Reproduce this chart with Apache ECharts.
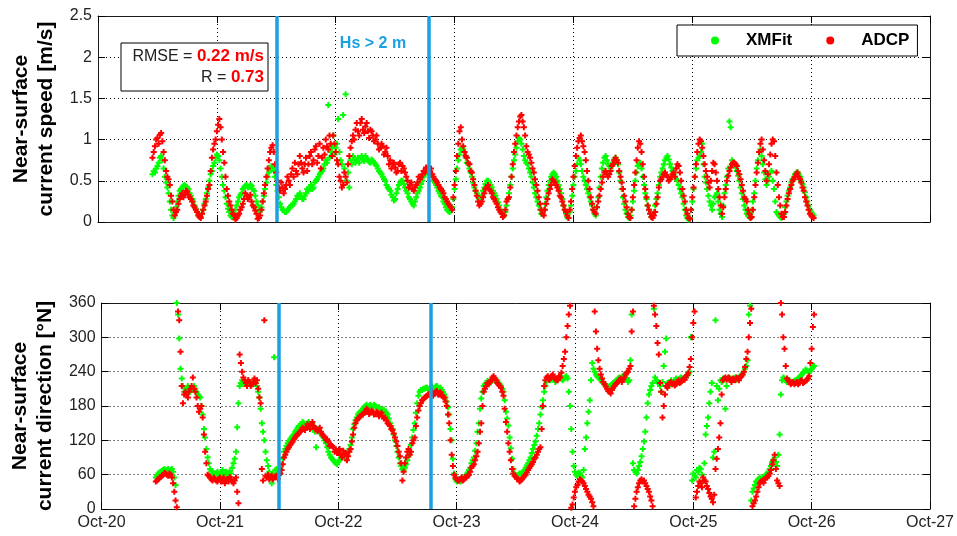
<!DOCTYPE html>
<html>
<head>
<meta charset="utf-8">
<script src="https://cdn.jsdelivr.net/npm/echarts@6/dist/echarts.min.js"></script>
<style>
  html, body { margin: 0; padding: 0; background: #fff; }
  #chart { width: 957px; height: 536px; }
</style>
</head>
<body>
<div id="chart"></div>
<script>
// Day labels of the shared time axis (value = days since Oct-20 00:00)
const dayLabels = ['Oct-20', 'Oct-21', 'Oct-22', 'Oct-23', 'Oct-24', 'Oct-25', 'Oct-26', 'Oct-27'];

// Samples on the hour and half hour, first one at Oct-20 11:00;
// the "Mid" arrays hold the samples at :15 and :45 in between.
const sampleStartDay = 11 / 24;
const sampleStepDay = 0.5 / 24;

// Near-surface current speed [m/s]
const speedXMFit = [
  0.58, 0.60, 0.68, 0.78, 0.75, 0.55, 0.42, 0.25, 0.08, 0.10, 0.25, 0.38,
  0.42, 0.45, 0.42, 0.35, 0.28, 0.20, 0.12, 0.08, 0.10, 0.22, 0.35, 0.50,
  0.62, 0.72, 0.82, 0.75, 0.55, 0.38, 0.22, 0.12, 0.06, 0.10, 0.20, 0.30,
  0.35, 0.42, 0.45, 0.43, 0.44, 0.38, 0.25, 0.15, 0.18, 0.32, 0.48, 0.60,
  0.68, 0.62, 0.45, 0.30, 0.18, 0.14, 0.12, 0.16, 0.20, 0.22, 0.28, 0.30,
  0.32, 0.28, 0.35, 0.38, 0.45, 0.42, 0.50, 0.55, 0.60, 0.65, 0.75, 1.42,
  0.85, 1.05, 0.90, 1.25, 0.75, 1.30, 1.55, 0.60, 0.75, 0.80, 0.72, 0.78,
  0.78, 0.76, 0.80, 0.75, 0.72, 0.74, 0.70, 0.65, 0.60, 0.55, 0.50, 0.42,
  0.38, 0.30, 0.28, 0.40, 0.48, 0.50, 0.42, 0.35, 0.28, 0.22, 0.25, 0.35,
  0.42, 0.50, 0.58, 0.62, 0.60, 0.55, 0.48, 0.42, 0.35, 0.30, 0.22, 0.15,
  0.12, 0.18, 0.40, 0.65, 0.82, 0.90, 0.85, 0.72, 0.65, 0.55, 0.42, 0.35,
  0.28, 0.32, 0.42, 0.50, 0.48, 0.42, 0.35, 0.28, 0.20, 0.12, 0.08, 0.20,
  0.35, 0.55, 0.75, 0.90, 1.02, 0.95, 0.80, 0.72, 0.65, 0.55, 0.42, 0.30,
  0.20, 0.10, 0.15, 0.30, 0.45, 0.55, 0.60, 0.55, 0.45, 0.35, 0.20, 0.10,
  0.05, 0.20, 0.45, 0.62, 0.78, 0.70, 0.55, 0.45, 0.35, 0.25, 0.15, 0.08,
  0.30, 0.55, 0.72, 0.80, 0.70, 0.65, 0.72, 0.78, 0.70, 0.50, 0.30, 0.15,
  0.06, 0.08, 0.25, 0.50, 0.68, 0.72, 0.55, 0.35, 0.20, 0.10, 0.08, 0.20,
  0.35, 0.55, 0.65, 0.75, 0.80, 0.70, 0.62, 0.55, 0.50, 0.40, 0.30, 0.15,
  0.05, 0.05, 0.25, 0.55, 0.75, 0.80, 0.95, 0.55, 0.40, 0.25, 0.15, 0.30,
  0.35, 0.15, 0.06, 0.35, 0.55, 1.22, 0.75, 0.70, 0.62, 0.50, 0.35, 0.20,
  0.10, 0.06, 0.15, 0.35, 0.65, 0.85, 0.80, 0.60, 0.45, 0.55, 0.62, 0.40,
  0.12, 0.08, 0.05, 0.10, 0.25, 0.38, 0.48, 0.55, 0.60, 0.58, 0.50, 0.42,
  0.30, 0.20, 0.12, 0.08
];
const speedXMFitMid = [
  0.62, 0.65, 0.72, 0.80, 0.65, 0.48, 0.35, 0.15, 0.05, 0.18, 0.32, 0.40,
  0.44, 0.43, 0.40, 0.32, 0.25, 0.16, 0.10, 0.06, 0.15, 0.28, 0.42, 0.58,
  0.68, 0.78, 0.80, 0.65, 0.45, 0.30, 0.16, 0.08, 0.07, 0.15, 0.25, 0.33,
  0.40, 0.44, 0.42, 0.45, 0.40, 0.32, 0.20, 0.13, 0.25, 0.40, 0.55, 0.65,
  0.66, 0.55, 0.38, 0.22, 0.15, 0.12, 0.14, 0.18, 0.20, 0.25, 0.32, 0.35,
  0.28, 0.32, 0.40, 0.42, 0.40, 0.48, 0.52, 0.58, 0.62, 0.70, 0.72, 0.78,
  0.90, 0.82, 0.95, 0.85, 0.70, 0.65, 0.50, 0.42, 0.70, 0.76, 0.74, 0.72,
  0.80, 0.74, 0.77, 0.73, 0.76, 0.72, 0.68, 0.62, 0.58, 0.52, 0.45, 0.40,
  0.33, 0.26, 0.35, 0.45, 0.50, 0.46, 0.38, 0.30, 0.25, 0.20, 0.30, 0.38,
  0.46, 0.55, 0.60, 0.63, 0.58, 0.50, 0.45, 0.38, 0.32, 0.25, 0.18, 0.13,
  0.14, 0.28, 0.52, 0.75, 0.88, 0.88, 0.78, 0.70, 0.60, 0.48, 0.38, 0.30,
  0.30, 0.38, 0.46, 0.50, 0.45, 0.38, 0.32, 0.24, 0.15, 0.10, 0.12, 0.28,
  0.45, 0.65, 0.82, 0.98, 1.00, 0.88, 0.75, 0.70, 0.60, 0.48, 0.35, 0.25,
  0.15, 0.10, 0.22, 0.38, 0.50, 0.58, 0.58, 0.50, 0.40, 0.28, 0.15, 0.06,
  0.12, 0.32, 0.55, 0.70, 0.75, 0.62, 0.50, 0.40, 0.30, 0.20, 0.10, 0.18,
  0.42, 0.65, 0.78, 0.75, 0.68, 0.70, 0.76, 0.75, 0.60, 0.40, 0.22, 0.10,
  0.05, 0.15, 0.38, 0.60, 0.70, 0.65, 0.45, 0.28, 0.15, 0.06, 0.12, 0.28,
  0.45, 0.60, 0.70, 0.78, 0.76, 0.66, 0.58, 0.52, 0.45, 0.35, 0.22, 0.08,
  0.03, 0.15, 0.40, 0.65, 0.78, 0.85, 0.70, 0.48, 0.32, 0.20, 0.22, 0.32,
  0.25, 0.10, 0.20, 0.45, 0.65, 1.15, 0.72, 0.66, 0.56, 0.42, 0.28, 0.15,
  0.08, 0.10, 0.25, 0.50, 0.75, 0.88, 0.70, 0.52, 0.50, 0.60, 0.50, 0.25,
  0.10, 0.06, 0.08, 0.18, 0.32, 0.42, 0.52, 0.58, 0.60, 0.55, 0.46, 0.36,
  0.25, 0.15, 0.10
];
const speedADCP = [
  0.78, 0.92, 1.02, 1.06, 0.98, 0.75, 0.55, 0.45, 0.25, 0.08, 0.15, 0.28,
  0.35, 0.33, 0.37, 0.30, 0.25, 0.18, 0.12, 0.06, 0.10, 0.20, 0.32, 0.45,
  0.78, 0.95, 1.10, 1.25, 1.00, 0.72, 0.40, 0.25, 0.15, 0.08, 0.05, 0.10,
  0.18, 0.28, 0.32, 0.30, 0.25, 0.18, 0.10, 0.05, 0.15, 0.35, 0.55, 0.75,
  0.90, 0.85, 0.60, 0.42, 0.48, 0.35, 0.45, 0.50, 0.58, 0.55, 0.62, 0.70,
  0.72, 0.60, 0.78, 0.70, 0.85, 0.75, 0.92, 0.80, 0.65, 0.90, 1.00, 0.88,
  0.95, 1.05, 0.85, 0.70, 0.50, 0.45, 0.55, 0.70, 0.90, 1.05, 1.12, 1.10,
  1.20, 1.12, 1.16, 1.10, 1.12, 1.05, 1.00, 0.95, 0.90, 0.92, 0.85, 0.80,
  0.75, 0.70, 0.66, 0.62, 0.72, 0.68, 0.60, 0.50, 0.45, 0.40, 0.42, 0.48,
  0.52, 0.58, 0.60, 0.65, 0.62, 0.58, 0.52, 0.48, 0.42, 0.38, 0.30, 0.25,
  0.20, 0.15, 0.45, 0.80, 1.10, 1.00, 0.85, 0.78, 0.70, 0.60, 0.45, 0.32,
  0.20, 0.25, 0.35, 0.42, 0.40, 0.35, 0.28, 0.22, 0.15, 0.10, 0.08, 0.25,
  0.30, 0.55, 0.85, 1.05, 1.22, 1.30, 1.15, 0.92, 0.82, 0.72, 0.60, 0.45,
  0.30, 0.15, 0.08, 0.22, 0.35, 0.45, 0.50, 0.45, 0.38, 0.30, 0.20, 0.12,
  0.05, 0.25, 0.55, 0.80, 0.98, 1.05, 0.92, 0.75, 0.50, 0.30, 0.15, 0.10,
  0.25, 0.40, 0.55, 0.62, 0.55, 0.62, 0.70, 0.78, 0.72, 0.55, 0.40, 0.25,
  0.10, 0.05, 0.30, 0.60, 0.90, 0.95, 0.70, 0.40, 0.20, 0.10, 0.05, 0.12,
  0.30, 0.50, 0.55, 0.60, 0.55, 0.52, 0.58, 0.55, 0.70, 0.60, 0.40, 0.25,
  0.10, 0.04, 0.30, 0.55, 0.85, 1.00, 0.90, 0.70, 0.55, 0.42, 0.62, 0.70,
  0.50, 0.30, 0.10, 0.30, 0.50, 0.62, 0.70, 0.72, 0.68, 0.58, 0.45, 0.30,
  0.25, 0.10, 0.06, 0.30, 0.60, 0.85, 1.00, 0.75, 0.50, 0.70, 0.95, 0.98,
  0.60, 0.30, 0.10, 0.06, 0.20, 0.35, 0.45, 0.52, 0.58, 0.55, 0.48, 0.38,
  0.25, 0.15, 0.08, 0.05
];
const speedADCPMid = [
  0.85, 1.00, 0.95, 1.08, 0.85, 0.62, 0.52, 0.32, 0.15, 0.12, 0.22, 0.32,
  0.30, 0.38, 0.33, 0.28, 0.20, 0.15, 0.08, 0.05, 0.15, 0.25, 0.40, 0.62,
  0.88, 1.00, 1.18, 1.15, 0.85, 0.55, 0.32, 0.20, 0.10, 0.03, 0.08, 0.15,
  0.22, 0.35, 0.28, 0.33, 0.20, 0.14, 0.04, 0.08, 0.25, 0.45, 0.65, 0.85,
  0.93, 0.70, 0.50, 0.38, 0.42, 0.40, 0.55, 0.45, 0.65, 0.72, 0.58, 0.80,
  0.65, 0.70, 0.62, 0.80, 0.70, 0.88, 0.72, 0.95, 0.78, 0.82, 0.92, 1.05,
  0.80, 0.95, 0.75, 0.55, 0.42, 0.60, 0.48, 0.80, 0.98, 1.00, 1.20, 1.05,
  1.25, 1.08, 1.20, 1.02, 1.10, 0.98, 1.05, 0.88, 0.95, 0.82, 0.90, 0.70,
  0.65, 0.72, 0.60, 0.70, 0.62, 0.65, 0.55, 0.42, 0.48, 0.38, 0.45, 0.55,
  0.55, 0.62, 0.66, 0.60, 0.65, 0.55, 0.50, 0.45, 0.40, 0.35, 0.28, 0.22,
  0.18, 0.30, 0.62, 0.95, 1.15, 0.92, 0.80, 0.72, 0.62, 0.52, 0.38, 0.25,
  0.22, 0.30, 0.40, 0.45, 0.38, 0.30, 0.25, 0.18, 0.12, 0.06, 0.15, 0.28,
  0.42, 0.70, 0.95, 1.15, 1.28, 1.22, 1.05, 0.85, 0.78, 0.65, 0.52, 0.38,
  0.22, 0.10, 0.15, 0.28, 0.40, 0.52, 0.48, 0.42, 0.32, 0.25, 0.15, 0.08,
  0.15, 0.40, 0.68, 0.90, 1.02, 0.98, 0.85, 0.62, 0.40, 0.22, 0.12, 0.18,
  0.32, 0.48, 0.60, 0.58, 0.58, 0.68, 0.75, 0.75, 0.62, 0.48, 0.32, 0.18,
  0.06, 0.15, 0.45, 0.75, 0.98, 0.85, 0.55, 0.30, 0.15, 0.06, 0.08, 0.22,
  0.42, 0.52, 0.58, 0.57, 0.50, 0.55, 0.60, 0.65, 0.68, 0.50, 0.32, 0.15,
  0.05, 0.15, 0.42, 0.70, 0.95, 0.98, 0.80, 0.62, 0.48, 0.50, 0.72, 0.60,
  0.40, 0.20, 0.18, 0.40, 0.56, 0.66, 0.72, 0.70, 0.62, 0.52, 0.38, 0.28,
  0.15, 0.05, 0.15, 0.45, 0.72, 0.95, 0.88, 0.62, 0.58, 0.82, 1.00, 0.80,
  0.45, 0.20, 0.06, 0.12, 0.28, 0.40, 0.50, 0.55, 0.60, 0.52, 0.42, 0.30,
  0.20, 0.10, 0.06
];

// Near-surface current direction [deg N]
const dirXMFit = [
  55, 62, 65, 68, 66, 70, 68, 65, 42, 340, 245, 215,
  210, 215, 205, 212, 210, 200, 195, 165, 125, 90, 70, 65,
  60, 65, 58, 68, 62, 60, 66, 72, 88, 143, 215, 225,
  225, 222, 218, 220, 225, 215, 195, 150, 120, 85, 65, 45,
  265, 70, 62, 78, 100, 110, 118, 125, 130, 138, 145, 148,
  150, 146, 152, 142, 138, 108, 140, 132, 125, 115, 100, 90,
  85, 80, 82, 90, 95, 88, 100, 112, 140, 155, 165, 170,
  175, 180, 178, 182, 178, 180, 176, 175, 172, 170, 165, 150,
  140, 120, 100, 80, 70, 72, 85, 100, 125, 150, 185, 205,
  208, 210, 212, 210, 214, 212, 215, 210, 208, 200, 188, 165,
  120, 62, 48, 52, 50, 55, 60, 68, 80, 90, 115, 150,
  193, 215, 220, 222, 225, 228, 222, 220, 215, 205, 170, 146,
  106, 70, 58, 60, 62, 65, 72, 80, 90, 105, 118, 140,
  165, 190, 215, 228, 225, 230, 222, 228, 232, 225, 230, 228,
  180, 100, 65, 58, 62, 55, 105, 150, 190, 255, 240, 232,
  228, 222, 218, 215, 212, 218, 222, 225, 230, 225, 235, 228,
  225, 340, 68, 62, 75, 92, 118, 160, 200, 215, 350, 225,
  220, 205, 250, 298, 215, 225, 220, 228, 225, 230, 228, 232,
  235, 300, 62, 55, 65, 70, 50, 130, 160, 205, 90, 330,
  190, 225, 228, 175, 230, 228, 225, 230, 228, 232, 235, 245,
  260, 355, 30, 42, 50, 55, 52, 58, 62, 70, 82, 90,
  75, 130, 225, 228, 222, 225, 220, 224, 226, 230, 235, 240,
  242, 238, 245, 250
];
const dirXMFitMid = [
  58, 64, 67, 70, 68, 66, 70, 55, 360, 298, 228, 205,
  212, 208, 210, 215, 205, 198, 180, 140, 105, 80, 66, 62,
  62, 60, 64, 60, 65, 58, 62, 80, 100, 185, 220, 218,
  220, 225, 222, 218, 220, 205, 175, 135, 100, 75, 55, 62,
  68, 65, 70, 88, 105, 115, 122, 128, 135, 142, 146, 152,
  148, 150, 145, 148, 135, 138, 135, 128, 120, 108, 95, 88,
  82, 78, 86, 92, 90, 95, 105, 125, 148, 160, 168, 172,
  178, 182, 180, 179, 182, 178, 178, 173, 174, 168, 158, 145,
  130, 110, 90, 75, 68, 78, 92, 112, 138, 168, 198, 208,
  210, 212, 208, 212, 210, 214, 212, 212, 204, 195, 178, 140,
  88, 52, 50, 48, 52, 58, 64, 72, 85, 102, 135, 175,
  205, 218, 224, 220, 228, 225, 225, 218, 210, 190, 158, 125,
  88, 62, 55, 62, 60, 68, 76, 85, 98, 112, 128, 150,
  178, 205, 222, 226, 228, 226, 225, 230, 228, 228, 232, 205,
  140, 75, 60, 64, 58, 68, 125, 170, 225, 245, 235, 230,
  225, 220, 216, 214, 215, 220, 224, 228, 226, 232, 230, 222,
  260, 80, 65, 68, 82, 105, 135, 185, 208, 220, 230, 222,
  215, 222, 275, 220, 222, 218, 225, 222, 228, 226, 230, 234,
  240, 50, 58, 68, 72, 60, 80, 145, 185, 220, 100, 215,
  210, 222, 226, 215, 228, 225, 228, 226, 230, 234, 240, 250,
  340, 15, 36, 48, 52, 50, 55, 60, 65, 75, 86, 82,
  95, 200, 230, 224, 226, 222, 222, 225, 228, 232, 238, 244,
  240, 242, 248
];
const dirADCP = [
  48, 52, 56, 60, 62, 58, 60, 45, 15, 345, 275, 185,
  205, 195, 210, 230, 205, 180, 175, 160, 100, 60, 55, 50,
  52, 48, 55, 50, 45, 52, 56, 48, 50, 30, 270, 240,
  225, 215, 222, 218, 228, 225, 195, 70, 330, 55, 52, 58,
  55, 58, 60, 68, 90, 100, 108, 115, 122, 128, 132, 138,
  140, 142, 145, 148, 145, 140, 138, 135, 128, 120, 118, 112,
  108, 104, 100, 95, 102, 98, 92, 105, 130, 150, 158, 162,
  165, 170, 172, 168, 170, 166, 168, 165, 162, 160, 150, 145,
  138, 125, 110, 92, 50, 80, 100, 95, 115, 125, 160, 180,
  190, 195, 198, 200, 205, 202, 206, 200, 198, 195, 180, 150,
  95, 60, 52, 50, 55, 52, 55, 60, 72, 78, 92, 115,
  150, 205, 215, 218, 225, 232, 225, 218, 212, 198, 152, 115,
  85, 62, 56, 52, 50, 55, 60, 68, 75, 82, 90, 100,
  108, 180, 225, 232, 228, 235, 228, 225, 230, 250, 275, 320,
  355, 8, 30, 42, 52, 48, 40, 30, 22, 12, 345, 280,
  245, 228, 218, 210, 205, 208, 215, 220, 225, 222, 230, 238,
  245, 310, 5, 30, 45, 52, 50, 40, 30, 15, 355, 320,
  270, 205, 180, 215, 218, 222, 220, 218, 225, 222, 228, 230,
  238, 262, 325, 20, 40, 45, 55, 48, 35, 22, 12, 70,
  105, 150, 225, 230, 228, 226, 228, 225, 228, 230, 235, 248,
  275, 325, 5, 15, 30, 45, 50, 52, 55, 62, 78, 95,
  50, 40, 340, 280, 228, 222, 220, 218, 222, 220, 225, 222,
  225, 232, 280, 340
];
const dirADCPMid = [
  50, 55, 58, 63, 60, 62, 55, 30, 3, 330, 215, 200,
  200, 205, 215, 210, 195, 170, 180, 130, 80, 58, 52, 55,
  50, 52, 48, 55, 50, 48, 52, 45, 55, 10, 255, 230,
  220, 225, 215, 222, 220, 210, 185, 50, 58, 60, 55, 52,
  57, 52, 62, 78, 95, 105, 112, 118, 125, 130, 135, 142,
  138, 148, 140, 152, 142, 136, 142, 130, 125, 122, 110, 110,
  100, 98, 105, 90, 96, 85, 100, 118, 142, 155, 160, 165,
  168, 175, 166, 172, 165, 170, 162, 168, 158, 155, 148, 140,
  132, 118, 100, 80, 65, 90, 105, 100, 120, 145, 172, 185,
  192, 196, 200, 203, 198, 205, 200, 204, 196, 188, 165, 120,
  75, 55, 50, 52, 50, 56, 58, 65, 75, 85, 100, 135,
  180, 210, 220, 222, 230, 228, 220, 215, 205, 175, 135, 100,
  70, 58, 53, 48, 52, 58, 64, 72, 78, 88, 95, 105,
  140, 215, 230, 226, 232, 230, 225, 232, 238, 262, 300, 340,
  2, 20, 38, 48, 50, 45, 35, 25, 18, 5, 310, 260,
  235, 222, 214, 206, 202, 212, 218, 222, 228, 226, 235, 240,
  250, 345, 18, 38, 50, 48, 45, 35, 22, 5, 340, 290,
  220, 160, 200, 212, 220, 218, 216, 222, 220, 225, 226, 234,
  248, 300, 345, 30, 48, 38, 50, 40, 28, 18, 25, 88,
  125, 200, 228, 226, 230, 222, 226, 230, 225, 232, 240, 262,
  300, 350, 10, 22, 38, 48, 46, 55, 58, 68, 85, 70,
  45, 360, 300, 250, 225, 218, 222, 220, 218, 224, 220, 224,
  228, 255, 318
];

// Period with significant wave height above 2 m (days since Oct-20)
const hsWindow = [1.5, 2.78];

// Agreement statistics between XMFit and ADCP speeds
const statRMSE = '0.22 m/s';
const statR = '0.73';

const GREEN = '#00ff00';
const RED = '#ff0000';
const BLUE = '#1ba1e2';
const FONT = 'Liberation Sans, Arial, sans-serif';
const PLUS = 'path://M2,0H4V2H6V4H4V6H2V4H0V2H2Z';

// Attach sample times: on-step values at start + i*step, mid values half a step later
function pairs(values, mids) {
  const out = values.map((v, i) => [sampleStartDay + i * sampleStepDay, v]);
  mids.forEach((v, i) => out.push([sampleStartDay + (i + 0.5) * sampleStepDay, v]));
  return out;
}

const chart = echarts.init(document.getElementById('chart'), null, { renderer: 'canvas' });

const frame = { show: true, onZero: false, lineStyle: { color: '#1a1a1a', width: 1 } };
const innerTick = { show: true, inside: true, length: 7, lineStyle: { color: '#000', width: 1 } };
const dotted = { show: true, lineStyle: { type: [1, 3], color: '#000', width: 1 } };
const tickText = { color: '#222', fontSize: 16, fontFamily: FONT };

function xAxisPair(gridIndex, withLabels) {
  return [
    {
      type: 'value', gridIndex, position: 'bottom', min: 0, max: 7, interval: 1,
      axisLine: frame, axisTick: innerTick, splitLine: dotted,
      axisLabel: withLabels
        ? Object.assign({ show: true, margin: 6, formatter: v => dayLabels[Math.round(v)] }, tickText)
        : { show: false }
    },
    {
      type: 'value', gridIndex, position: 'top', min: 0, max: 7, interval: 1,
      axisLine: frame, axisTick: innerTick, splitLine: { show: false }, axisLabel: { show: false }
    }
  ];
}

function yAxisPair(gridIndex, max, interval, name, gap) {
  return [
    {
      type: 'value', gridIndex, position: 'left', min: 0, max, interval,
      axisLine: frame, axisTick: innerTick, splitLine: dotted,
      axisLabel: Object.assign({ margin: 6 }, tickText),
      name, nameLocation: 'middle', nameGap: gap, nameRotate: 90,
      nameTextStyle: { fontSize: 21, fontWeight: 'bold', color: '#000', lineHeight: 25, fontFamily: FONT }
    },
    {
      type: 'value', gridIndex, position: 'right', min: 0, max, interval,
      axisLine: frame, axisTick: innerTick, splitLine: { show: false }, axisLabel: { show: false }
    }
  ];
}

const hsLines = {
  silent: true,
  symbol: ['none', 'none'],
  label: { show: false },
  lineStyle: { color: BLUE, width: 3.5, type: 'solid' },
  emphasis: { disabled: true },
  data: hsWindow.map(d => ({ xAxis: d }))
};

function scatter(name, color, values, mids, xi, yi, withLines) {
  const s = {
    name, type: 'scatter', xAxisIndex: xi, yAxisIndex: yi,
    symbol: PLUS, symbolSize: 6,
    itemStyle: { color, opacity: 1 },
    data: pairs(values, mids),
    silent: true,
    z: 3
  };
  if (withLines) s.markLine = hsLines;
  return s;
}

const option = {
  animation: false,
  backgroundColor: '#fff',
  textStyle: { fontFamily: FONT },
  grid: [
    { left: 98, top: 16, width: 832, height: 206 },
    { left: 98, top: 303, width: 832, height: 206 }
  ],
  xAxis: [...xAxisPair(0, false), ...xAxisPair(1, true)],
  yAxis: [
    ...yAxisPair(0, 2.5, 0.5, 'Near-surface\ncurrent speed [m/s]', 36),
    ...yAxisPair(1, 360, 60, 'Near-surface\ncurrent direction [°N]', 42)
  ],
  legend: {
    data: ['XMFit', 'ADCP'],
    icon: 'circle',
    left: 677, top: 25,
    itemWidth: 8, itemHeight: 8, itemGap: 34,
    padding: [7, 8, 7, 34],
    backgroundColor: '#fff', borderColor: '#000', borderWidth: 1,
    textStyle: {
      fontSize: 17, fontWeight: 'bold', color: '#000', fontFamily: FONT,
      padding: [0, 0, 0, 22]
    },
    selectedMode: false,
    z: 10
  },
  series: [
    scatter('XMFit', GREEN, speedXMFit, speedXMFitMid, 0, 0, false),
    scatter('ADCP', RED, speedADCP, speedADCPMid, 0, 0, true),
    scatter('XMFit', GREEN, dirXMFit, dirXMFitMid, 2, 2, false),
    scatter('ADCP', RED, dirADCP, dirADCPMid, 2, 2, true)
  ],
  graphic: [
    {
      type: 'rect', z: 20,
      shape: { x: 121, y: 43, width: 147, height: 48 },
      style: { fill: '#fff', stroke: '#000', lineWidth: 1 }
    },
    {
      type: 'text', z: 21, x: 264, y: 67,
      style: {
        text: '{k|RMSE = }{v|' + statRMSE + '}\n{k|R = }{v|' + statR + '}',
        align: 'right', verticalAlign: 'middle',
        rich: {
          k: { fontSize: 16, fill: '#222', fontFamily: FONT, lineHeight: 21 },
          v: { fontSize: 17, fontWeight: 'bold', fill: RED, fontFamily: FONT, lineHeight: 21 }
        }
      }
    },
    {
      type: 'text', z: 21, x: 373, y: 44,
      style: {
        text: 'Hs > 2 m', align: 'center', verticalAlign: 'middle',
        fontSize: 16, fontWeight: 'bold', fill: BLUE, fontFamily: FONT
      }
    }
  ]
};

chart.setOption(option);
</script>
</body>
</html>
